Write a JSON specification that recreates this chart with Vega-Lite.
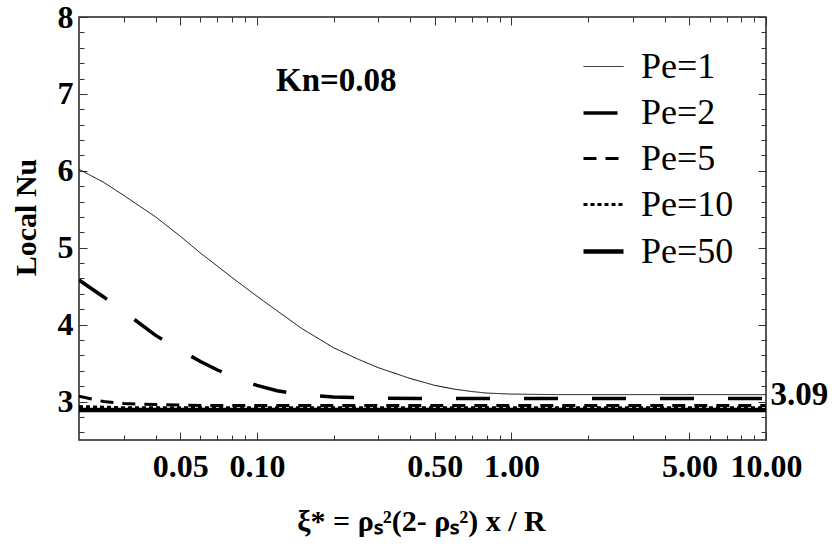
{
  "$schema": "https://vega.github.io/schema/vega-lite/v6.json",
  "width": 687,
  "height": 423,
  "autosize": {"type": "none"},
  "padding": {"left": 79, "top": 17, "right": 66, "bottom": 107},
  "config": {
    "view": {"stroke": "#222", "strokeWidth": 1.5},
    "axis": {
      "grid": false,
      "domain": false,
      "tickColor": "#333",
      "tickWidth": 1,
      "labelFont": "Liberation Serif",
      "labelFontWeight": "bold",
      "labelFontSize": 32,
      "labelColor": "#000",
      "titleFont": "Liberation Serif",
      "titleFontWeight": "bold",
      "titleColor": "#000"
    }
  },
  "data": {
    "values": [
      {"Pe": "Pe=1", "x": 0.02, "y": 6.02},
      {"Pe": "Pe=1", "x": 0.025, "y": 5.85},
      {"Pe": "Pe=1", "x": 0.03, "y": 5.68},
      {"Pe": "Pe=1", "x": 0.04, "y": 5.4},
      {"Pe": "Pe=1", "x": 0.05, "y": 5.15},
      {"Pe": "Pe=1", "x": 0.06, "y": 4.93},
      {"Pe": "Pe=1", "x": 0.07, "y": 4.76},
      {"Pe": "Pe=1", "x": 0.08, "y": 4.61},
      {"Pe": "Pe=1", "x": 0.1, "y": 4.37},
      {"Pe": "Pe=1", "x": 0.12, "y": 4.18},
      {"Pe": "Pe=1", "x": 0.15, "y": 3.95},
      {"Pe": "Pe=1", "x": 0.2, "y": 3.7},
      {"Pe": "Pe=1", "x": 0.25, "y": 3.55},
      {"Pe": "Pe=1", "x": 0.3, "y": 3.44},
      {"Pe": "Pe=1", "x": 0.4, "y": 3.3},
      {"Pe": "Pe=1", "x": 0.5, "y": 3.21},
      {"Pe": "Pe=1", "x": 0.6, "y": 3.16},
      {"Pe": "Pe=1", "x": 0.7, "y": 3.13},
      {"Pe": "Pe=1", "x": 0.8, "y": 3.11},
      {"Pe": "Pe=1", "x": 1.0, "y": 3.097},
      {"Pe": "Pe=1", "x": 1.5, "y": 3.09},
      {"Pe": "Pe=1", "x": 10, "y": 3.09},
      {"Pe": "Pe=2", "x": 0.02, "y": 4.58},
      {"Pe": "Pe=2", "x": 0.025, "y": 4.36},
      {"Pe": "Pe=2", "x": 0.03, "y": 4.17},
      {"Pe": "Pe=2", "x": 0.04, "y": 3.86},
      {"Pe": "Pe=2", "x": 0.05, "y": 3.67},
      {"Pe": "Pe=2", "x": 0.06, "y": 3.52},
      {"Pe": "Pe=2", "x": 0.07, "y": 3.41},
      {"Pe": "Pe=2", "x": 0.08, "y": 3.33},
      {"Pe": "Pe=2", "x": 0.1, "y": 3.21},
      {"Pe": "Pe=2", "x": 0.12, "y": 3.14},
      {"Pe": "Pe=2", "x": 0.15, "y": 3.09},
      {"Pe": "Pe=2", "x": 0.2, "y": 3.06},
      {"Pe": "Pe=2", "x": 0.3, "y": 3.045},
      {"Pe": "Pe=2", "x": 0.5, "y": 3.04},
      {"Pe": "Pe=2", "x": 10, "y": 3.04},
      {"Pe": "Pe=5", "x": 0.02, "y": 3.07},
      {"Pe": "Pe=5", "x": 0.025, "y": 3.0},
      {"Pe": "Pe=5", "x": 0.03, "y": 2.975},
      {"Pe": "Pe=5", "x": 0.04, "y": 2.96},
      {"Pe": "Pe=5", "x": 0.06, "y": 2.95},
      {"Pe": "Pe=5", "x": 10, "y": 2.95},
      {"Pe": "Pe=10", "x": 0.02, "y": 2.935},
      {"Pe": "Pe=10", "x": 0.03, "y": 2.92},
      {"Pe": "Pe=10", "x": 10, "y": 2.92},
      {"Pe": "Pe=50", "x": 0.02, "y": 2.89},
      {"Pe": "Pe=50", "x": 10, "y": 2.89}
    ]
  },
  "layer": [
    {
      "mark": {"type": "line", "color": "#000", "clip": true},
      "encoding": {
        "x": {
          "field": "x", "type": "quantitative",
          "scale": {"type": "log", "domain": [0.02, 10], "nice": false},
          "axis": {
            "orient": "bottom", "values": [0.05, 0.1, 0.5, 1, 5, 10], "format": ".2f",
            "tickSize": -8, "labelPadding": 19, "labelFlush": false, "labelOverlap": false,
            "title": "ξ* = ρₛ²(2- ρₛ²) x / R", "titleFontSize": 30,
            "titleX": 342, "titleY": 81, "titleBaseline": "middle", "titleAlign": "center"
          }
        },
        "y": {
          "field": "y", "type": "quantitative",
          "scale": {"domain": [2.5, 8], "nice": false, "zero": false},
          "axis": {
            "orient": "left", "values": [3, 4, 5, 6, 7, 8], "format": "d",
            "tickSize": -8, "labelPadding": 14, "labelFlush": false, "labelOverlap": false,
            "title": "Local Nu", "titleFontSize": 30,
            "titleX": -53, "titleY": 200, "titleAngle": -90, "titleBaseline": "middle", "titleAlign": "center"
          }
        },
        "strokeDash": {
          "field": "Pe", "type": "nominal",
          "scale": {"domain": ["Pe=1", "Pe=2", "Pe=5", "Pe=10", "Pe=50"],
                    "range": [[1, 0], [34, 34], [13, 9], [4, 3], [1, 0]]},
          "legend": {
            "orient": "none", "legendX": 502, "legendY": 29, "title": null,
            "symbolType": "stroke", "symbolSize": 1600, "symbolStrokeColor": "#000",
            "labelFont": "Liberation Serif", "labelFontSize": 36, "labelColor": "#000",
            "labelOffset": 15, "rowPadding": 6
          }
        },
        "strokeWidth": {
          "field": "Pe", "type": "nominal",
          "scale": {"type": "ordinal", "domain": ["Pe=1", "Pe=2", "Pe=5", "Pe=10", "Pe=50"],
                    "range": [1, 3.5, 3, 3, 4.5]},
          "legend": {
            "orient": "none", "legendX": 502, "legendY": 29, "title": null,
            "symbolType": "stroke", "symbolSize": 1600, "symbolStrokeColor": "#000",
            "labelFont": "Liberation Serif", "labelFontSize": 36, "labelColor": "#000",
            "labelOffset": 15, "rowPadding": 6
          }
        }
      }
    },
    {
      "mark": {"type": "point", "opacity": 0},
      "encoding": {
        "x": {"field": "x", "type": "quantitative",
              "scale": {"type": "log", "domain": [0.02, 10], "nice": false},
              "axis": {"orient": "bottom", "values": [0.03, 0.04, 0.06, 0.07, 0.08, 0.09, 0.2, 0.3, 0.4, 0.6, 0.7, 0.8, 0.9, 2, 3, 4, 6, 7, 8, 9],
                       "tickSize": -5, "labels": false, "title": null}},
        "y": {"field": "y", "type": "quantitative",
              "scale": {"domain": [2.5, 8], "nice": false, "zero": false},
              "axis": {"orient": "left", "values": [2.6, 2.8, 3.2, 3.4, 3.6, 3.8, 4.2, 4.4, 4.6, 4.8, 5.2, 5.4, 5.6, 5.8, 6.2, 6.4, 6.6, 6.8, 7.2, 7.4, 7.6, 7.8],
                       "tickSize": -5, "labels": false, "title": null}}
      }
    },
    {
      "mark": {"type": "point", "opacity": 0},
      "encoding": {
        "x": {"field": "x", "type": "quantitative",
              "scale": {"type": "log", "domain": [0.02, 10], "nice": false},
              "axis": {"orient": "top", "values": [0.05, 0.1, 0.5, 1, 5, 10], "tickSize": -8, "labels": false, "title": null}},
        "y": {"field": "y", "type": "quantitative",
              "scale": {"domain": [2.5, 8], "nice": false, "zero": false},
              "axis": {"orient": "right", "values": [3, 4, 5, 6, 7, 8], "tickSize": -8, "labels": false, "title": null}}
      }
    },
    {
      "mark": {"type": "point", "opacity": 0},
      "encoding": {
        "x": {"field": "x", "type": "quantitative",
              "scale": {"type": "log", "domain": [0.02, 10], "nice": false},
              "axis": {"orient": "top", "values": [0.03, 0.04, 0.06, 0.07, 0.08, 0.09, 0.2, 0.3, 0.4, 0.6, 0.7, 0.8, 0.9, 2, 3, 4, 6, 7, 8, 9],
                       "tickSize": -5, "labels": false, "title": null}},
        "y": {"field": "y", "type": "quantitative",
              "scale": {"domain": [2.5, 8], "nice": false, "zero": false},
              "axis": {"orient": "right", "values": [2.6, 2.8, 3.2, 3.4, 3.6, 3.8, 4.2, 4.4, 4.6, 4.8, 5.2, 5.4, 5.6, 5.8, 6.2, 6.4, 6.6, 6.8, 7.2, 7.4, 7.6, 7.8],
                       "tickSize": -5, "labels": false, "title": null}}
      }
    },
    {
      "mark": {"type": "point", "opacity": 0},
      "encoding": {
        "x": {"field": "x", "type": "quantitative",
              "scale": {"type": "log", "domain": [0.02, 10], "nice": false}, "axis": null},
        "y": {"field": "y", "type": "quantitative",
              "scale": {"domain": [2.5, 8], "nice": false, "zero": false},
              "axis": {"orient": "right", "values": [3.09], "format": ".2f", "ticks": false, "labelPadding": 4, "labelFontSize": 33, "labelFlush": false, "title": null}}
      }
    },
    {
      "data": {"values": [{"label": "Kn=0.08"}]},
      "mark": {"type": "text", "font": "Liberation Serif", "fontWeight": "bold", "fontSize": 33, "fill": "#000", "align": "center", "baseline": "middle"},
      "encoding": {
        "x": {"datum": 0.205, "type": "quantitative", "scale": {"type": "log", "domain": [0.02, 10], "nice": false}, "axis": null},
        "y": {"datum": 7.17, "type": "quantitative", "scale": {"domain": [2.5, 8], "nice": false, "zero": false}, "axis": null},
        "text": {"field": "label"}
      }
    }
  ],
  "resolve": {"axis": {"x": "independent", "y": "independent"}}
}
